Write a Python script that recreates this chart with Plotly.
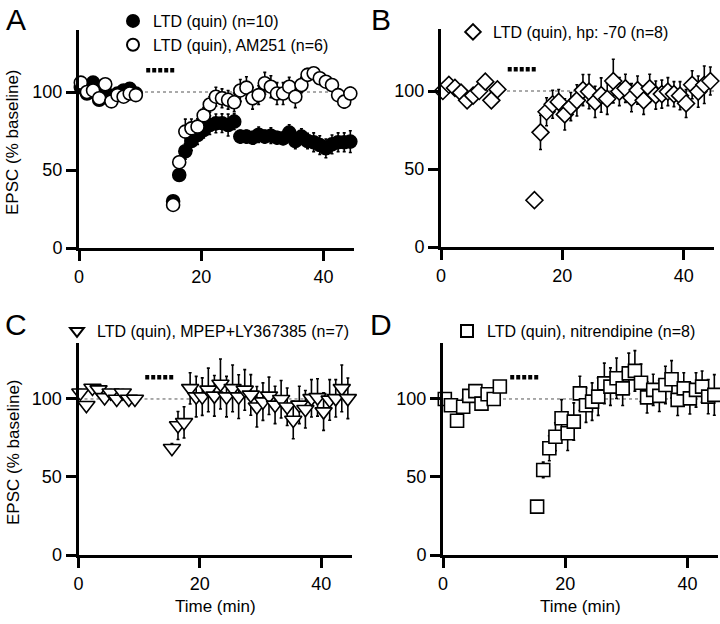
import plotly.graph_objects as go

# ---------------- data ----------------
t_base = [0.3, 1.3, 2.3, 3.3, 4.3, 5.3, 6.3, 7.3, 8.3, 9.3]
t_post = [15.4, 16.4, 17.4, 18.4, 19.4, 20.4, 21.4, 22.4, 23.4, 24.4,
          25.4, 26.4, 27.4, 28.4, 29.4, 30.4, 31.4, 32.4, 33.4, 34.4,
          35.4, 36.4, 37.4, 38.4, 39.4, 40.4, 41.4, 42.4, 43.4, 44.4]
t_time = t_base + t_post

drug_t = [11.0, 15.7]
drug_level = 114
baseline_level = 100

# Panel A: LTD (quin) n=10 (filled)
a_ltd = [103, 99, 106, 95, 100, 97, 99, 101, 102, 99,
         30, 46.8, 62, 68.6, 72.4, 75.6, 78.8, 79.9, 80, 78.8,
         81, 71.4, 71.4, 70.7, 72.6, 71.4, 72, 70.7, 70.3, 74,
         68.6, 71.4, 68.6, 67.8, 66, 63.9, 66.4, 67.8, 67.8, 68.2]
a_ltd_err = [2, 2, 2, 2, 2, 2, 2, 2, 2, 2,
             3, 4, 5, 6, 6, 5, 6, 6, 6, 7,
             5, 4, 4, 4, 5, 4, 5, 4, 4, 5,
             5, 5, 5, 6, 6, 6, 6, 6, 6, 7]
# Panel A: LTD (quin), AM251 n=6 (open)
a_am = [106, 100, 101, 96, 105, 94, 98, 97, 99, 98,
        27.6, 55, 74.6, 76.7, 77.8, 85, 92, 97, 96, 95,
        93.4, 101, 102.8, 96, 98, 105.6, 103.4, 99, 99, 103.4,
        97, 104.5, 111, 112, 108.8, 106.6, 104.5, 98, 93.8, 99]
a_am_err = [2, 2, 2, 2, 2, 2, 2, 2, 2, 2,
            3, 4, 8, 6, 5, 5, 5, 6, 6, 6,
            6, 7, 7, 7, 6, 7, 7, 7, 7, 6,
            7, 5, 4, 3, 3, 3, 4, 4, 4, 4]

# Panel B: LTD (quin), hp: -70 n=8
b_hp = [100, 104, 102, 99, 94, 97, 100, 106, 94, 101,
        30, 73.5, 86.7, 91.5, 93, 85, 90, 94, 100.6, 99.6,
        93, 97.4, 95, 106.4, 99.6, 101.7, 95.7, 100.6, 94, 101.7,
        97.4, 98, 99.6, 98, 97, 92, 104, 99.6, 104, 106.4]
b_hp_err = [2, 2, 2, 2, 2, 2, 2, 2, 2, 2,
            3, 11, 9, 9, 8, 10, 9, 10, 10, 11,
            10, 11, 10, 14, 9, 9, 9, 9, 9, 9,
            9, 9, 9, 8, 9, 9, 9, 10, 12, 9]

# Panel C: LTD (quin), MPEP+LY367385 n=7
c_mpep = [104, 96, 107, 106, 101, 104, 100, 104, 100, 100,
          68.4, 83, 85, 106.8, 101.5, 101.5, 105.8, 102, 109.6, 101.5,
          106.8, 101.5, 105.8, 102.6, 95, 98.3, 102, 96.2, 99.8, 95,
          86.5, 96.2, 93.4, 100.4, 101, 91.9, 99.4, 100.4, 106.8, 100.4]
c_mpep_err = [2, 2, 2, 2, 2, 2, 2, 2, 2, 2,
              3, 9, 10, 10, 13, 12, 14, 13, 16, 13,
              15, 14, 13, 13, 13, 12, 12, 12, 12, 12,
              12, 12, 12, 12, 12, 12, 13, 12, 15, 13]

# Panel D: LTD (quin), nitrendipine n=8
d_nit = [100, 96, 86, 95, 102, 105, 97, 103, 100, 108,
         31, 54.5, 68.4, 75.8, 87.6, 78, 85.5, 103.6, 96, 98.3,
         101.5, 110, 107.9, 113.3, 106.8, 116.4, 118, 110.4, 101, 105.8,
         102, 109, 112.6, 99.4, 106.8, 100.4, 105.8, 107.9, 101.5, 102.6]
d_nit_err = [2, 2, 2, 2, 2, 2, 2, 2, 2, 2,
             3, 5, 8, 9, 12, 11, 12, 11, 11, 12,
             12, 13, 12, 13, 11, 13, 13, 12, 10, 10,
             10, 12, 12, 10, 10, 10, 11, 10, 11, 13]

x_ticks = [0, 20, 40]
y_ticks = [0, 50, 100]

# ---------------- figure ----------------
W, H = 720, 624
FONT = "Liberation Sans, Arial, Helvetica, sans-serif"


def px_x(v):
    return v / W


def px_y(v):
    return 1 - v / H


fig = go.Figure()

panels = [
    # (xaxis, yaxis, legend, x domain px, y domain px (top,bottom), yrange top)
    ("x", "y", "legend", (79, 354), (29.6, 248), 140),
    ("x2", "y2", "legend2", (441, 714), (28.6, 247), 140),
    ("x3", "y3", "legend3", (78.5, 351.5), (342.8, 555), 136),
    ("x4", "y4", "legend4", (443, 718), (342.8, 555), 136),
]

series = [
    [("LTD (quin) (n=10)", a_ltd, a_ltd_err, "circle", "black", 13),
     ("LTD (quin), AM251 (n=6)", a_am, a_am_err, "circle", "white", 13)],
    [("LTD (quin), hp: -70 (n=8)", b_hp, b_hp_err, "diamond", "white", 13)],
    [("LTD (quin), MPEP+LY367385 (n=7)", c_mpep, c_mpep_err, "triangle-down", "white", 15)],
    [("LTD (quin), nitrendipine (n=8)", d_nit, d_nit_err, "square", "white", 13)],
]

for (xa, ya, lg, xd, yd, ytop), sers in zip(panels, series):
    fig.add_trace(go.Scatter(
        x=[0, 45], y=[baseline_level, baseline_level], mode="lines",
        line=dict(color="#555555", width=1, dash="3px,3px"),
        xaxis=xa, yaxis=ya, showlegend=False, hoverinfo="skip"))
    fig.add_trace(go.Scatter(
        x=drug_t, y=[drug_level, drug_level], mode="lines",
        line=dict(color="black", width=4.5, dash="4px,2px"),
        xaxis=xa, yaxis=ya, showlegend=False, hoverinfo="skip"))

for (xa, ya, lg, xd, yd, ytop), sers in zip(panels, series):
    for name, vals, errs, sym, fill, size in sers:
        fig.add_trace(go.Scatter(
            x=t_time, y=vals, mode="markers", name=name,
            marker=dict(symbol=sym, size=size, color=fill,
                        line=dict(color="black", width=1.6)),
            error_y=dict(type="data", array=errs, visible=True,
                         color="black", thickness=1.6, width=1.5),
            cliponaxis=False, xaxis=xa, yaxis=ya, legend=lg))

layout = dict(
    width=W, height=H,
    margin=dict(l=0, r=0, t=0, b=0, autoexpand=False),
    paper_bgcolor="white", plot_bgcolor="white",
    font=dict(family=FONT, size=16, color="black"),
)

for i, (xa, ya, lg, xd, yd, ytop) in enumerate(panels):
    xname = "xaxis" if xa == "x" else "xaxis" + xa[1:]
    yname = "yaxis" if ya == "y" else "yaxis" + ya[1:]
    layout[xname] = dict(
        domain=[px_x(xd[0]), px_x(xd[1])], range=[0, 45], anchor=ya,
        tickvals=x_ticks, ticktext=[str(v) for v in x_ticks],
        showline=True, linecolor="black", linewidth=3,
        ticks="outside", ticklen=10, tickwidth=3, tickcolor="black",
        showgrid=False, zeroline=False, tickfont=dict(size=18), automargin=False)
    layout[yname] = dict(
        domain=[px_y(yd[1]), px_y(yd[0])], range=[0, ytop], anchor=xa,
        tickvals=y_ticks, ticktext=[str(v) for v in y_ticks],
        showline=True, linecolor="black", linewidth=3,
        ticks="outside", ticklen=10, tickwidth=3, tickcolor="black",
        showgrid=False, zeroline=False, tickfont=dict(size=18), automargin=False)

legend_pos = {
    "legend": (113, 4),
    "legend2": (453, 15),
    "legend3": (57, 314),
    "legend4": (447, 314),
}
for lg, (lx, ly) in legend_pos.items():
    layout[lg] = dict(
        x=px_x(lx), y=px_y(ly), xanchor="left", yanchor="top",
        bgcolor="rgba(0,0,0,0)", font=dict(size=16, family=FONT),
        itemsizing="constant", tracegroupgap=0)

annotations = []
for letter, ax, ay in [("A", 16, 19), ("B", 381, 19), ("C", 16, 324), ("D", 381, 324)]:
    annotations.append(dict(text=letter, x=px_x(ax), y=px_y(ay), xref="paper", yref="paper",
                            showarrow=False, font=dict(size=30, family=FONT),
                            xanchor="center", yanchor="middle"))
for cy in [142, 452]:
    annotations.append(dict(text="EPSC (% baseline)", x=px_x(13), y=px_y(cy),
                            xref="paper", yref="paper", showarrow=False, textangle=-90,
                            font=dict(size=17, family=FONT), xanchor="center", yanchor="middle"))
for cx in [215, 580]:
    annotations.append(dict(text="Time (min)", x=px_x(cx), y=px_y(606),
                            xref="paper", yref="paper", showarrow=False,
                            font=dict(size=17, family=FONT), xanchor="center", yanchor="middle"))
layout["annotations"] = annotations

fig.update_layout(**layout)
fig.write_html("out.html", config={"displayModeBar": False},
               post_script="document.body.style.margin='0';document.body.style.padding='0';")
